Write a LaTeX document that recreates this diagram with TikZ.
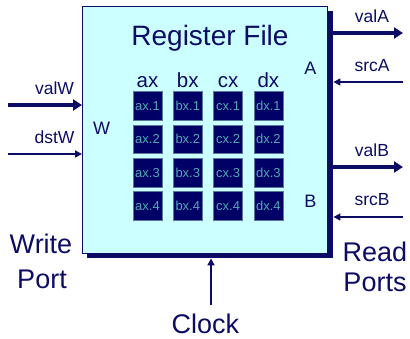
\documentclass[tikz,border=0pt]{standalone}
\usepackage{fontspec}
\setmainfont{Liberation Sans}
\usetikzlibrary{arrows.meta}
\definecolor{navy}{RGB}{12,12,100}
\definecolor{boxfill}{RGB}{204,255,255}
\definecolor{cellfill}{RGB}{0,0,102}
\definecolor{celltext}{RGB}{80,170,180}
\definecolor{celledge}{RGB}{90,120,150}
\newcommand{\fs}[1]{\fontsize{#1}{#1}\selectfont}
\tikzset{
  lbl/.style={text=navy, inner sep=0pt, anchor=base},
  biglbl/.style={lbl, font=\fs{27}},
  portlbl/.style={lbl, font=\fs{18}},
  siglbl/.style={lbl, font=\fs{17.5}},
  colhead/.style={lbl, font=\fs{20.5}},
  regcell/.style={draw=celledge, line width=0.6pt, fill=cellfill, text=celltext,
    minimum width=29pt, minimum height=28.5pt, inner sep=0pt, font=\fs{13}},
  busarrow/.style={navy, line width=4pt, -{Triangle[length=9pt,width=11pt]}},
  sigarrow/.style={navy, line width=1.6pt, -{Triangle[length=7pt,width=7pt]}},
}
\begin{document}
\begin{tikzpicture}[x=1pt,y=-1pt]
\useasboundingbox (0,0) rectangle (410,338);

% register file block with its drop shadow
\node[fill=navy, minimum width=246pt, minimum height=247pt, inner sep=0pt,
      anchor=north west] (sh) at (87,11) {};
\node[draw=navy, line width=1pt, fill=boxfill, minimum width=245pt,
      minimum height=247pt, inner sep=0pt, anchor=north west] (rf) at (82,6) {};

\node[lbl, font=\fs{28}] (title) at (210,45) {Register File};

% port letters inside the block
\node[portlbl] (pw) at (101.5,134) {W};
\node[portlbl] (pa) at (310.5,74) {A};
\node[portlbl] (pb) at (310.5,207) {B};

% register columns
\foreach \r [count=\i from 0] in {ax,bx,cx,dx}{
  \node[colhead] (h\r) at ({147.5+40.3*\i},87) {\r};
  \foreach \k [count=\j from 0] in {1,2,3,4}{
    \node[regcell] (\r\k) at ({147.5+40.3*\i},{106+33.3*\j}) {\r.\k};
  }
}

% write port
\coordinate (valWin) at (8,105);
\coordinate (dstWin) at (8,154);
\draw[busarrow] (valWin) -- (rf.west |- valWin);
\draw[sigarrow] (dstWin) -- (rf.west |- dstWin);
\node[siglbl] (lvalW) at (54.5,94) {valW};
\node[siglbl] (ldstW) at (54.5,143) {dstW};
\node[biglbl] (write) at (41,253) {Write};
\node[biglbl] (port) at (42,288) {Port};

% read ports
\coordinate (valAout) at (403,33);
\coordinate (srcAin) at (403,82);
\coordinate (valBout) at (403,167);
\coordinate (srcBin) at (403,217);
\draw[busarrow] (sh.east |- valAout) -- (valAout);
\draw[sigarrow] (srcAin) -- (sh.east |- srcAin);
\draw[busarrow] (sh.east |- valBout) -- (valBout);
\draw[sigarrow] (srcBin) -- (sh.east |- srcBin);
\node[siglbl] (lvalA) at (372,22) {valA};
\node[siglbl] (lsrcA) at (372,71) {srcA};
\node[siglbl] (lvalB) at (372,156) {valB};
\node[siglbl] (lsrcB) at (372,205) {srcB};
\node[biglbl] (read) at (375,261) {Read};
\node[biglbl] (ports) at (375,291) {Ports};

% clock input
\coordinate (clkin) at (211,305);
\draw[sigarrow] (clkin) -- (sh.south -| clkin);
\node[biglbl] (clock) at (205.5,333) {Clock};
\end{tikzpicture}
\end{document}
